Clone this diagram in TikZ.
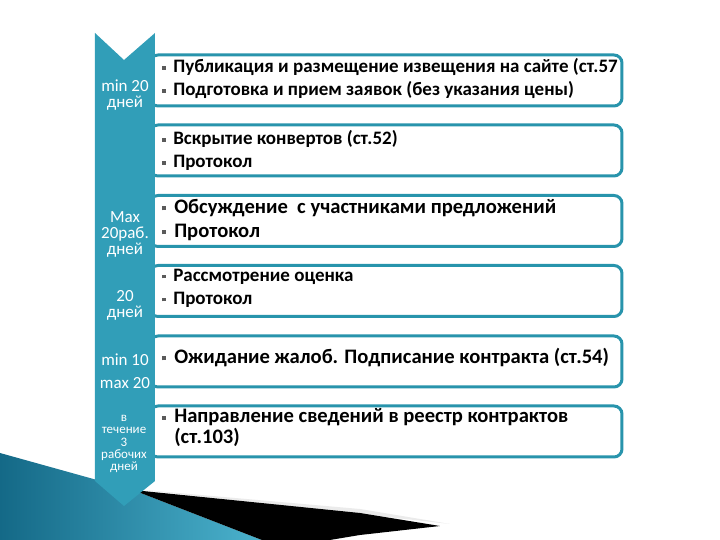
\documentclass[tikz,border=0pt]{standalone}
\usepackage{fontspec}
\setmainfont{Carlito}
\usetikzlibrary{positioning}

\definecolor{barteal}{RGB}{49,158,184}
\definecolor{boxteal}{RGB}{40,148,172}
\definecolor{deepteal}{RGB}{20,105,135}
\definecolor{lightteal}{RGB}{75,178,205}
\definecolor{dotgray}{RGB}{90,90,90}

\tikzset{
  stagebox/.style={draw=boxteal, line width=1.5pt, rounded corners=4pt, fill=white,
    minimum width=236pt, minimum height=25.5pt, inner sep=0pt},
  stagetext/.style={anchor=west, align=left, inner sep=0pt,
    font=\bfseries\fontsize{9.5}{11.5}\selectfont},
  bigtext/.style={stagetext, font=\bfseries\fontsize{10.3}{12}\selectfont},
  daylabel/.style={text=white, align=center, inner sep=0pt,
    font=\fontsize{8.5}{8}\selectfont},
  smalllabel/.style={daylabel, font=\fontsize{6.5}{6.2}\selectfont},
}
\newcommand{\bul}{{\color{dotgray}\raisebox{0.3ex}{\rule{0.2em}{0.2em}}}\hspace{0.4em}}

\begin{document}
\begin{tikzpicture}[x=0.5pt,y=-0.5pt]
    \useasboundingbox (0,0) rectangle (720,540);
    % decoration in the corner
    \shade[left color=deepteal, right color=lightteal] (0,453) -- (133,490) -- (262,540) -- (0,540) -- cycle;
    \fill[black!8] (133,489) -- (360,509) -- (450,524) -- (360,514) -- cycle;
    \fill[black] (133,490) -- (360,513) -- (440,526) -- (360,535) -- (330,540) -- (262,540) -- cycle;
    %
    \node[stagebox] (b1) at (386,80.5) {};
    \node[stagebox] (b2) at (386,150.5) {};
    \node[stagebox] (b3) at (386,221) {};
    \node[stagebox] (b4) at (386,291) {};
    \node[stagebox] (b5) at (386,361.5) {};
    \node[stagebox] (b6) at (386,431.5) {};
    %
    \node[stagetext] (t1) at ([xshift=6.5pt,yshift=1pt]b1.west)
        {\bul Публикация и размещение извещения на сайте (ст.57\\
         \bul Подготовка и прием заявок (без указания цены)};
    \node[stagetext] (t2) at ([xshift=6.5pt]b2.west)
        {\bul Вскрытие конвертов (ст.52)\\ \bul Протокол};
    \node[bigtext] (t3) at ([xshift=6.5pt,yshift=0.5pt]b3.west)
        {\bul Обсуждение\ \ с участниками предложений\\ \bul Протокол};
    \node[stagetext] (t4) at ([xshift=6.5pt,yshift=1.5pt]b4.west)
        {\bul Рассмотрение оценка\\ \bul Протокол};
    \node[bigtext] (t5) at ([xshift=6.5pt,yshift=2pt]b5.west)
        {\bul Ожидание жалоб. Подписание контракта (ст.54)};
    \node[bigtext, font=\bfseries\fontsize{10.3}{9.3}\selectfont] (t6) at ([xshift=6.5pt,yshift=2pt]b6.west)
        {\bul Направление сведений в реестр контрактов\\ \hphantom{\bul}(ст.103)};
    %
    \fill[barteal] (95,33) -- (124,60) -- (155,33) -- (155,481) -- (124,506) -- (95,481) -- cycle;
    %
    \node[daylabel] (d1) at (125,95) {min 20\\дней};
    \node[daylabel] (d2) at (125,234) {Max\\20раб.\\дней};
    \node[daylabel] (d3) at (125,305) {20\\дней};
    \node[daylabel] (d4) at (125,360) {min 10};
    \node[daylabel] (d5) at (125,383) {max 20};
    \node[smalllabel] (d6) at (124,444) {в\\течение\\3\\рабочих\\дней};
\end{tikzpicture}
\end{document}
